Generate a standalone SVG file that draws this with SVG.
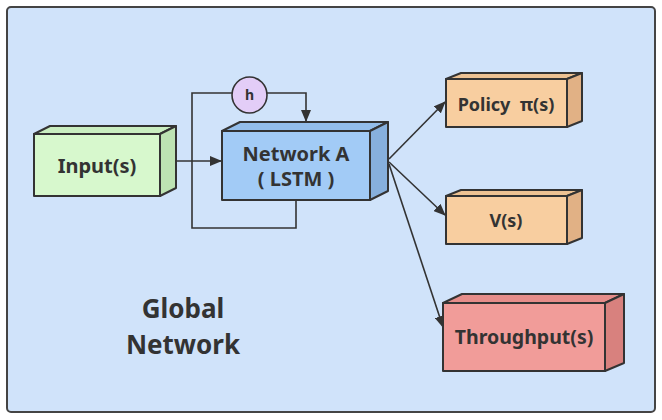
<svg xmlns="http://www.w3.org/2000/svg" width="662" height="420" viewBox="0 0 662 420">
<defs>
<marker id="arr" viewBox="0 0 12 10" refX="11" refY="5" markerWidth="12" markerHeight="10" markerUnits="userSpaceOnUse" orient="auto">
<path d="M0,0 L12,5 L0,10 Z" fill="#333"/>
</marker>
<style>
.e{stroke:#333;stroke-width:2;stroke-linejoin:round}
.c{fill:none;stroke:#333;stroke-width:1.6}
.t{font-family:"Noto Sans","Open Sans","DejaVu Sans",sans-serif;font-weight:bold;fill:#333;text-anchor:middle}
</style>
</defs>
<rect x="7" y="7" width="648" height="405" rx="4" fill="#d0e3fa" stroke="#444" stroke-width="2"/>
<g id="connectors">
<polyline class="c" points="296,200 296,228 192,228 192,93 232,93"/>
<polyline class="c" points="267,93 306,93 306,121" marker-end="url(#arr)"/>
<line class="c" x1="176" y1="161" x2="221" y2="161" marker-end="url(#arr)"/>
<line class="c" x1="389" y1="159" x2="445" y2="102" marker-end="url(#arr)"/>
<line class="c" x1="389" y1="162" x2="445" y2="215" marker-end="url(#arr)"/>
<line class="c" x1="389" y1="164" x2="443" y2="327" marker-end="url(#arr)"/>
</g>
<g id="h">
<ellipse cx="249.5" cy="95" rx="17.5" ry="18" fill="#e3cdf7" stroke="#333" stroke-width="1.6"/>
<text class="t" x="249.5" y="100" font-size="14">h</text>
</g>
<g id="input">
<polygon class="e" points="34,134 50,126 176,126 160,134" fill="#c9eec0"/>
<polygon class="e" points="160,134 176,126 176,188 160,196" fill="#bde3b3"/>
<rect class="e" x="34" y="134" width="126" height="62" fill="#d7f8cd"/>
<text class="t" x="97" y="173" font-size="20">Input(s)</text>
</g>
<g id="networkA">
<polygon class="e" points="222,131 240,122 388,122 370,131" fill="#93bdea"/>
<polygon class="e" points="370,131 388,122 388,191 370,200" fill="#87b0dd"/>
<rect class="e" x="222" y="131" width="148" height="69" fill="#a2cbf6"/>
<text class="t" x="296" y="161" font-size="20">Network A</text>
<text class="t" x="296" y="186" font-size="20" xml:space="preserve">( LSTM )</text>
</g>
<g id="policy">
<polygon class="e" points="446,79 461,73 582,73 567,79" fill="#edc293"/>
<polygon class="e" points="567,79 582,73 582,121 567,127" fill="#e1b185"/>
<rect class="e" x="446" y="79" width="121" height="48" fill="#f8cea0"/>
<text class="t" x="506" y="111" font-size="18" xml:space="preserve">Policy  π(s)</text>
</g>
<g id="value">
<polygon class="e" points="446,196 461,190 582,190 567,196" fill="#edc293"/>
<polygon class="e" points="567,196 582,190 582,238 567,244" fill="#e1b185"/>
<rect class="e" x="446" y="196" width="121" height="48" fill="#f8cea0"/>
<text class="t" x="506" y="227" font-size="18">V(s)</text>
</g>
<g id="throughput">
<polygon class="e" points="443,303 462,294 624,294 605,303" fill="#e68d8a"/>
<polygon class="e" points="605,303 624,294 624,363 605,371" fill="#d8817e"/>
<rect class="e" x="443" y="303" width="162" height="68" fill="#f19c99"/>
<text class="t" x="524" y="344" font-size="19.5">Throughput(s)</text>
</g>
<g id="label">
<text class="t" x="183" y="318" font-size="26">Global</text>
<text class="t" x="183" y="354" font-size="26">Network</text>
</g>
</svg>
